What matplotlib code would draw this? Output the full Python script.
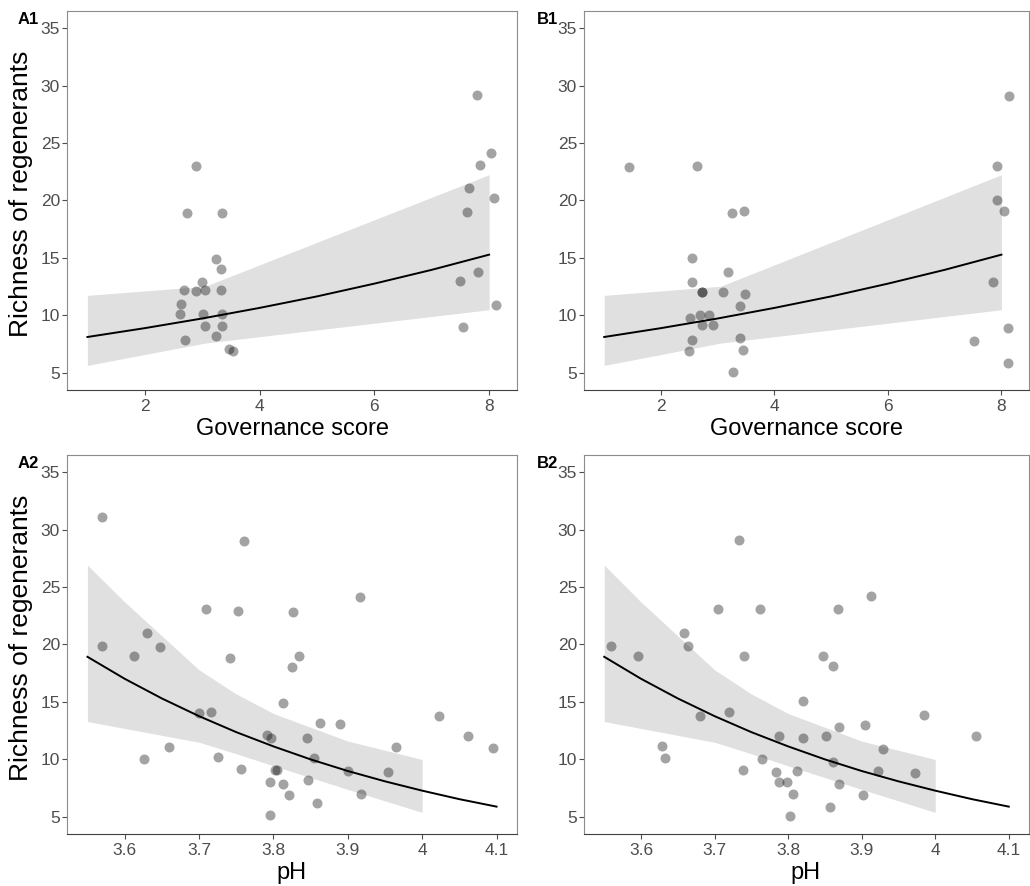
#!/usr/bin/python
# -*- coding: utf-8 -*-

'''
Richness of regenerants vs governance score and pH (4 panels)
'''

import matplotlib
matplotlib.use('Agg')
import matplotlib.pyplot as plt

plt.rcParams['font.family'] = ['Liberation Sans', 'DejaVu Sans']

# --- points ---
a1_x = [7.79, 8.04, 7.84, 7.65, 8.08, 7.62, 7.81, 7.50, 8.12, 7.55,
        2.89, 2.74, 3.34, 3.24, 3.33, 2.99, 2.69, 2.90, 3.05, 3.32,
        2.63, 2.62, 3.02, 3.34, 3.05, 3.35, 2.70, 3.24, 3.46, 3.53]
a1_y = [29.2, 24.1, 23.1, 21.1, 20.2, 19.0, 13.8, 13.0, 10.9, 9.0,
        23.0, 18.9, 18.9, 14.9, 14.0, 12.9, 12.2, 12.1, 12.2, 12.2,
        11.0, 10.1, 10.1, 10.1, 9.1, 9.1, 7.9, 8.2, 7.1, 6.9]

b1_x = [8.13, 7.92, 7.93, 8.04, 7.85, 8.11, 7.52, 8.11, 1.44, 2.64,
        3.26, 3.47, 2.55, 3.19, 2.55, 2.72, 2.73, 3.09, 3.48, 3.40,
        2.52, 2.69, 2.84, 2.73, 2.92, 2.55, 3.40, 2.50, 3.44, 3.27]
b1_y = [29.1, 23.0, 20.0, 19.1, 12.9, 8.9, 7.8, 5.9, 22.9, 23.0,
        18.9, 19.1, 15.0, 13.8, 12.9, 12.0, 12.0, 12.0, 11.9, 10.8,
        9.8, 10.0, 10.0, 9.2, 9.2, 7.9, 8.0, 6.9, 7.0, 5.1]

a2_x = [3.570, 3.760, 3.916, 3.710, 3.753, 3.827, 3.630, 3.570, 3.647, 3.612,
        3.835, 3.742, 3.825, 3.813, 3.700, 3.716, 4.023, 3.863, 3.889, 3.791,
        3.797, 3.845, 4.062, 3.659, 3.965, 4.095, 3.626, 3.726, 3.854, 3.756,
        3.802, 3.805, 3.900, 3.954, 3.795, 3.813, 3.847, 3.821, 3.918, 3.858,
        3.795]
a2_y = [31.1, 29.0, 24.1, 23.1, 22.9, 22.8, 21.0, 19.9, 19.8, 19.0,
        19.0, 18.8, 18.0, 14.9, 14.0, 14.1, 13.8, 13.2, 13.1, 12.1,
        11.9, 11.9, 12.0, 11.1, 11.1, 11.0, 10.0, 10.2, 10.1, 9.2,
        9.1, 9.1, 9.0, 8.9, 8.0, 7.9, 8.2, 6.9, 7.0, 6.2,
        5.2]

b2_x = [3.733, 3.913, 3.705, 3.762, 3.868, 3.659, 3.559, 3.664, 3.596, 3.740,
        3.847, 3.861, 3.820, 3.985, 3.680, 3.719, 3.869, 3.904, 4.055, 3.787,
        3.820, 3.851, 3.628, 3.929, 3.632, 3.764, 3.861, 3.738, 3.783, 3.812,
        3.922, 3.973, 3.788, 3.799, 3.869, 3.807, 3.902, 3.857, 3.802]
b2_y = [29.1, 24.2, 23.1, 23.1, 23.1, 21.0, 19.9, 19.9, 19.0, 19.0,
        19.0, 18.1, 15.1, 13.9, 13.8, 14.1, 12.8, 13.0, 12.0, 12.0,
        11.9, 12.0, 11.2, 10.9, 10.1, 10.0, 9.8, 9.1, 8.9, 9.0,
        9.0, 8.8, 8.0, 8.0, 7.9, 7.0, 6.9, 5.9, 5.1]

# --- fitted curves and confidence bands ---
gov_line_x = [1, 2, 3, 4, 5, 6, 7, 8]
gov_line_y = [8.13, 8.90, 9.74, 10.66, 11.66, 12.77, 13.97, 15.29]
gov_band_x = [1.0, 3.05, 8.0]
gov_band_lo = [5.66, 7.60, 10.50]
gov_band_hi = [11.75, 12.54, 22.24]

ph_line_x = [3.55, 3.60, 3.65, 3.70, 3.75, 3.80, 3.85, 3.90, 3.95, 4.00, 4.05, 4.10]
ph_line_y = [18.93, 17.02, 15.31, 13.77, 12.38, 11.14, 10.01, 9.00, 8.10, 7.29, 6.55, 5.90]
ph_band_x = [3.55, 3.60, 3.70, 3.75, 3.80, 3.90, 4.00]
ph_band_lo = [13.3, 12.7, 11.5, 10.5, 9.45, 7.4, 5.4]
ph_band_hi = [26.9, 23.7, 17.8, 15.7, 14.0, 11.6, 10.0]

gov_ticks = [2, 4, 6, 8]
ph_ticks = [3.6, 3.7, 3.8, 3.9, 4.0, 4.1]
ph_ticklabels = ['3.6', '3.7', '3.8', '3.9', '4', '4.1']
y_ticks = [5, 10, 15, 20, 25, 30, 35]

W, H = 1030, 886


def panel(rect, px, py, lx, ly, bx, blo, bhi, xlim, xticks, xticklabels):
    l, t, r, b = rect
    ax = fig.add_axes([l / W, 1 - b / H, (r - l) / W, (b - t) / H])
    ax.fill_between(bx, blo, bhi, color='#e0e0e0', linewidth=0, zorder=1)
    ax.plot(lx, ly, color='black', lw=1.4, zorder=2)
    ax.scatter(px, py, s=52, color='black', alpha=0.36, linewidths=0, zorder=3)
    ax.set_xlim(xlim)
    ax.set_ylim(3.52, 36.48)
    ax.set_xticks(xticks)
    ax.set_xticklabels(xticklabels)
    ax.set_yticks(y_ticks)
    ax.tick_params(axis='both', direction='out', length=3.5, width=0.8,
                   colors='#4d4d4d', labelsize=12.5, pad=1.5)
    ax.tick_params(axis='x', pad=3)
    for side in ['top', 'right', 'left']:
        ax.spines[side].set_color('#8c8c8c')
        ax.spines[side].set_linewidth(0.8)
    ax.spines['bottom'].set_color('#404040')
    ax.spines['bottom'].set_linewidth(0.8)
    return ax


fig = plt.figure(figsize=(W / 100, H / 100), dpi=100)

gov_xlim = (0.644, 8.486)
ph_xlim = (3.5225, 4.1275)

panel((67, 11, 517, 390), a1_x, a1_y, gov_line_x, gov_line_y,
      gov_band_x, gov_band_lo, gov_band_hi, gov_xlim, gov_ticks, gov_ticks)
panel((584, 11, 1029, 390), b1_x, b1_y, gov_line_x, gov_line_y,
      gov_band_x, gov_band_lo, gov_band_hi, gov_xlim, gov_ticks, gov_ticks)
panel((67, 455, 517, 834), a2_x, a2_y, ph_line_x, ph_line_y,
      ph_band_x, ph_band_lo, ph_band_hi, ph_xlim, ph_ticks, ph_ticklabels)
panel((584, 455, 1029, 834), b2_x, b2_y, ph_line_x, ph_line_y,
      ph_band_x, ph_band_lo, ph_band_hi, ph_xlim, ph_ticks, ph_ticklabels)

# axis titles
for cx, by, txt in [(292, 435, 'Governance score'), (806, 435, 'Governance score'),
                    (292, 879, 'pH'), (806, 879, 'pH')]:
    fig.text(cx / W, 1 - by / H, txt, ha='center', va='baseline', fontsize=17, color='black')

for cy in [194, 638]:
    fig.text(21 / W, 1 - cy / H, 'Richness of regenerants', rotation=90,
             ha='center', va='center', fontsize=19, color='black')

# panel tags
for tx, ty, tag in [(18, 24, 'A1'), (537, 24, 'B1'), (18, 468, 'A2'), (537, 468, 'B2')]:
    fig.text(tx / W, 1 - ty / H, tag, ha='left', va='baseline', fontsize=12,
             fontweight='bold', color='black')

fig.savefig('out.png', dpi=100)
